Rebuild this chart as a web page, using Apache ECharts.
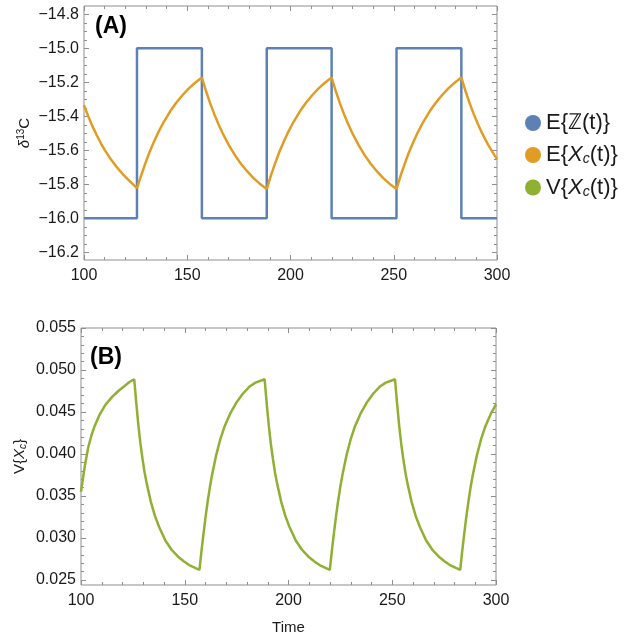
<!DOCTYPE html>
<html>
<head>
<meta charset="utf-8">
<script src="https://cdn.jsdelivr.net/npm/echarts@6/dist/echarts.min.js"></script>
<style>
html,body{margin:0;padding:0;background:#fff;}
#chart{width:628px;height:638px;}
</style>
</head>
<body>
<div id="chart"></div>
<script>
// ---------- data ----------
const stepTime  = [100, 125.66, 157.08, 188.50, 219.91, 251.33, 282.74, 300];
const stepValue = [-16, -15, -16, -15, -16, -15, -16, -16];

const eTime = [100,102,104,106,108,110,113,116,119,122,
  125.66,127.66,129.66,131.66,133.66,135.66,138.66,141.66,144.66,147.66,150.66,153.66,
  157.08,159.08,161.08,163.08,165.08,167.08,170.08,173.08,176.08,179.08,182.08,185.08,
  188.50,190.50,192.50,194.50,196.50,198.50,201.50,204.50,207.50,210.50,213.50,216.50,
  219.91,221.91,223.91,225.91,227.91,229.91,232.91,235.91,238.91,241.91,244.91,247.91,
  251.33,253.33,255.33,257.33,259.33,261.33,264.33,267.33,270.33,273.33,276.33,279.33,
  282.74,284.74,286.74,288.74,290.74,292.74,295.74,298.74,300];
const eValue = [-15.335,-15.398,-15.456,-15.507,-15.554,-15.597,-15.653,-15.701,-15.743,-15.779,
  -15.822,-15.749,-15.678,-15.613,-15.555,-15.502,-15.432,-15.372,-15.320,-15.276,-15.237,-15.204,
  -15.172,-15.251,-15.322,-15.387,-15.445,-15.498,-15.568,-15.628,-15.680,-15.724,-15.763,-15.796,
  -15.828,-15.749,-15.678,-15.613,-15.555,-15.502,-15.432,-15.372,-15.320,-15.276,-15.237,-15.204,
  -15.172,-15.251,-15.322,-15.387,-15.445,-15.498,-15.568,-15.628,-15.680,-15.724,-15.763,-15.796,
  -15.828,-15.749,-15.678,-15.613,-15.555,-15.502,-15.432,-15.372,-15.320,-15.276,-15.237,-15.204,
  -15.172,-15.251,-15.322,-15.387,-15.445,-15.498,-15.568,-15.628,-15.651];

const vTime = [100,101,102,103.5,105,106.7,109,111.6,115,118,121,123.5,
  125.66,126.66,127.66,128.66,129.66,130.66,131.66,133.66,135.66,137.66,140.66,143.66,146.66,149.66,152.66,
  157.08,158.08,159.08,160.08,161.08,162.08,163.08,165.08,167.08,169.08,172.08,175.08,178.08,181.08,184.08,
  188.50,189.50,190.50,191.50,192.50,193.50,194.50,196.50,198.50,200.50,203.50,206.50,209.50,212.50,215.50,
  219.91,220.91,221.91,222.91,223.91,224.91,225.91,227.91,229.91,231.91,234.91,237.91,240.91,243.91,246.91,
  251.33,252.33,253.33,254.33,255.33,256.33,257.33,259.33,261.33,263.33,266.33,269.33,272.33,275.33,278.33,
  282.74,283.74,284.74,285.74,286.74,287.74,288.74,290.74,292.74,294.74,297.74,300];
const vValue = [0.0355,0.0372,0.0388,0.0408,0.0422,0.0434,0.0447,0.0458,0.0468,0.0475,0.0481,0.0486,
  0.0489,0.0460,0.0434,0.0412,0.0394,0.0378,0.0365,0.0343,0.0326,0.0313,0.0297,0.0286,0.0278,0.0272,0.0267,
  0.0262,0.0285,0.0306,0.0326,0.0344,0.0360,0.0374,0.0398,0.0417,0.0432,0.0449,0.0462,0.0472,0.0480,0.0485,
  0.0489,0.0460,0.0434,0.0412,0.0394,0.0378,0.0365,0.0343,0.0326,0.0313,0.0297,0.0286,0.0278,0.0272,0.0267,
  0.0262,0.0285,0.0306,0.0326,0.0344,0.0360,0.0374,0.0398,0.0417,0.0432,0.0449,0.0462,0.0472,0.0480,0.0485,
  0.0489,0.0460,0.0434,0.0412,0.0394,0.0378,0.0365,0.0343,0.0326,0.0313,0.0297,0.0286,0.0278,0.0272,0.0267,
  0.0262,0.0285,0.0306,0.0326,0.0344,0.0360,0.0374,0.0398,0.0417,0.0432,0.0449,0.0459];

// tick labels
const timeTicks = [100, 150, 200, 250, 300];
const deltaTicks = [-16.2, -16.0, -15.8, -15.6, -15.4, -15.2, -15.0, -14.8];
const varTicks = [0.025, 0.030, 0.035, 0.040, 0.045, 0.050, 0.055];

// ---------- styling helpers ----------
const FONT = 'Liberation Sans, Arial, Helvetica, sans-serif';
const FRAME = '#8f8f8f';
const C_BLUE = '#5E81B5', C_ORANGE = '#E19C24', C_GREEN = '#8FB032';

function minorTicks(lo, hi, step, majors) {
  const out = [];
  const n = Math.round((hi - lo) / step);
  for (let i = 0; i <= n; i++) {
    const v = Math.round((lo + i * step) * 1e6) / 1e6;
    if (!majors.some(m => Math.abs(m - v) < 1e-9)) out.push(v);
  }
  return out;
}

function axis(kind, grid, pos, min, max, tickVals, len, label, extra) {
  const a = {
    type: 'value', gridIndex: grid, position: pos, min: min, max: max,
    axisLine: { show: false }, splitLine: { show: false },
    axisTick: { show: true, inside: true, length: len, customValues: tickVals,
                lineStyle: { color: FRAME, width: 1 } },
    axisLabel: { show: false }
  };
  if (label) {
    a.axisLabel = Object.assign({ show: true, customValues: tickVals, color: '#1a1a1a',
      fontSize: 16, fontFamily: FONT }, label);
  }
  return Object.assign(a, extra || {});
}

const xMinor = minorTicks(100, 300, 10, timeTicks);
const dMinor = minorTicks(-16.2, -14.8, 0.05, deltaTicks);
const vMinor = minorTicks(0.025, 0.055, 0.001, varTicks);

const D_MIN = -16.245, D_MAX = -14.751;
const V_MIN = 0.0244, V_MAX = 0.0550;

const xAxes = [
  axis('x', 0, 'bottom', 100, 300, timeTicks, 5, { margin: 8, formatter: v => String(v) }),
  axis('x', 0, 'bottom', 100, 300, xMinor, 3),
  axis('x', 0, 'top', 100, 300, timeTicks, 5),
  axis('x', 0, 'top', 100, 300, xMinor, 3),
  axis('x', 1, 'bottom', 100, 300, timeTicks, 5, { margin: 8, formatter: v => String(v) },
    { name: 'Time', nameLocation: 'middle', nameGap: 35, nameMoveOverlap: false,
      nameTextStyle: { fontSize: 15, fontFamily: FONT, color: '#1a1a1a' } }),
  axis('x', 1, 'bottom', 100, 300, xMinor, 3),
  axis('x', 1, 'top', 100, 300, timeTicks, 5),
  axis('x', 1, 'top', 100, 300, xMinor, 3)
];

const yAxes = [
  axis('y', 0, 'left', D_MIN, D_MAX, deltaTicks, 5,
    { margin: 5, formatter: v => v.toFixed(1).replace('-', '\u2212') },
    { name: '{d|\u03b4}{sup|13}{n|C}', nameLocation: 'middle', nameGap: 51, nameRotate: 90,
      nameMoveOverlap: false,
      nameTextStyle: { fontSize: 15, fontFamily: FONT, color: '#1a1a1a',
        rich: { d: { fontSize: 15, fontStyle: 'italic', fontFamily: FONT, color: '#1a1a1a' },
                sup: { fontSize: 10, fontFamily: FONT, color: '#1a1a1a', padding: [0, 0, 7, 0] },
                n: { fontSize: 15, fontFamily: FONT, color: '#1a1a1a' } } } }),
  axis('y', 0, 'left', D_MIN, D_MAX, dMinor, 3),
  axis('y', 0, 'right', D_MIN, D_MAX, deltaTicks, 5),
  axis('y', 0, 'right', D_MIN, D_MAX, dMinor, 3),
  axis('y', 1, 'left', V_MIN, V_MAX, varTicks, 5,
    { margin: 5, formatter: v => v.toFixed(3) },
    { name: 'V{{i|X}{s|c}}', nameLocation: 'middle', nameGap: 53, nameRotate: 90,
      nameMoveOverlap: false,
      nameTextStyle: { fontSize: 15, fontFamily: FONT, color: '#1a1a1a',
        rich: { i: { fontSize: 15, fontStyle: 'italic', fontFamily: FONT, color: '#1a1a1a' },
                s: { fontSize: 10, fontStyle: 'italic', fontFamily: FONT, color: '#1a1a1a', padding: [6, 0, 0, 0] } } } }),
  axis('y', 1, 'left', V_MIN, V_MAX, vMinor, 3),
  axis('y', 1, 'right', V_MIN, V_MAX, varTicks, 5),
  axis('y', 1, 'right', V_MIN, V_MAX, vMinor, 3)
];

const legendNames = {
  EZ: 'E{\u2124(t)}',
  EX: 'E{{i|X}{s|c}(t)}',
  VX: 'V{{i|X}{s|c}(t)}'
};

const chart = echarts.init(document.getElementById('chart'), null, { renderer: 'canvas' });
chart.setOption({
  animation: false,
  backgroundColor: '#ffffff',
  grid: [
    { left: 84, top: 6, width: 413, height: 254, show: true, borderColor: FRAME, borderWidth: 1, backgroundColor: 'transparent' },
    { left: 81, top: 328, width: 415, height: 257, show: true, borderColor: FRAME, borderWidth: 1, backgroundColor: 'transparent' }
  ],
  xAxis: xAxes,
  yAxis: yAxes,
  legend: {
    orient: 'vertical', left: 525, top: 112, padding: 0, itemWidth: 16, itemHeight: 16, itemGap: 10,
    icon: 'circle', data: ['EZ', 'EX', 'VX'],
    formatter: n => legendNames[n],
    textStyle: { fontSize: 22, fontFamily: FONT, color: '#1a1a1a',
      rich: { i: { fontSize: 22, fontStyle: 'italic', fontFamily: FONT, color: '#1a1a1a' },
              s: { fontSize: 14, fontStyle: 'italic', fontFamily: FONT, color: '#1a1a1a', padding: [9, 0, 0, 0] } } }
  },
  graphic: [
    { type: 'text', left: 95, top: 15, style: { text: '(A)', font: 'bold 23px ' + FONT, fill: '#000' } },
    { type: 'text', left: 90, top: 346, style: { text: '(B)', font: 'bold 23px ' + FONT, fill: '#000' } }
  ],
  series: [
    { name: 'EZ', type: 'line', xAxisIndex: 0, yAxisIndex: 0, step: 'end', showSymbol: false,
      itemStyle: { color: C_BLUE }, lineStyle: { color: C_BLUE, width: 2.5 },
      data: stepTime.map((t, i) => [t, stepValue[i]]) },
    { name: 'EX', type: 'line', xAxisIndex: 0, yAxisIndex: 0, showSymbol: false,
      itemStyle: { color: C_ORANGE }, lineStyle: { color: C_ORANGE, width: 2.5 },
      data: eTime.map((t, i) => [t, eValue[i]]) },
    { name: 'VX', type: 'line', xAxisIndex: 4, yAxisIndex: 4, showSymbol: false,
      itemStyle: { color: C_GREEN }, lineStyle: { color: C_GREEN, width: 2.5 },
      data: vTime.map((t, i) => [t, vValue[i]]) }
  ]
});
</script>
</body>
</html>
